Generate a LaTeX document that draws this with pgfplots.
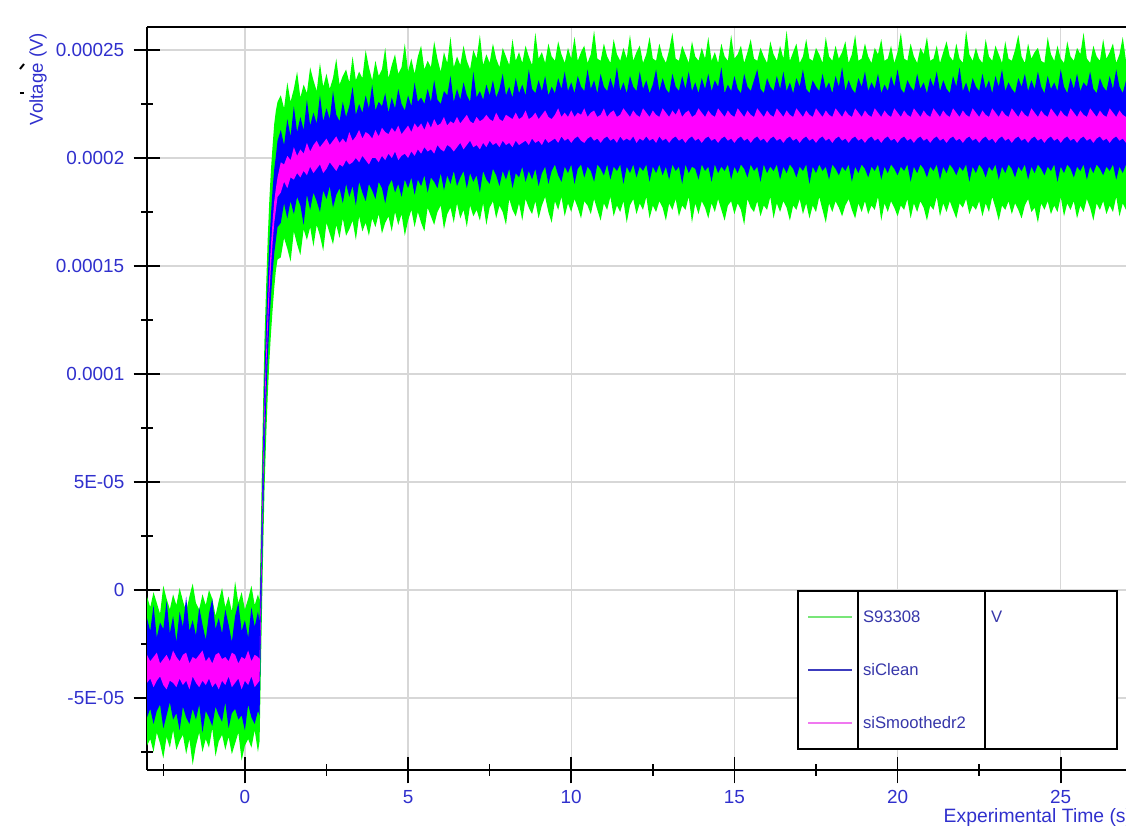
\documentclass[border=0pt]{standalone}
\usepackage{fontspec}
\setmainfont{Liberation Sans}
\usepackage{pgfplots}
\usepackage{pgfplotstable}
\pgfplotsset{compat=1.18}
\usepgfplotslibrary{fillbetween}
\definecolor{txtblue}{RGB}{48,48,205}
\definecolor{legblue}{RGB}{55,55,170}
\definecolor{sgreen}{RGB}{0,255,0}
\definecolor{sblue}{RGB}{0,0,255}
\definecolor{smag}{RGB}{255,0,255}
\definecolor{gridgray}{RGB}{215,215,215}

% voltage in units of 1e-5 V: noise envelopes of each trace
\pgfplotstableread{
x gu gl bu bl mu ml
-3.0 -0.3 -7.2 -1.3 -5.9 -3.0 -4.3
-2.9 -0.8 -6.9 -1.9 -5.5 -3.3 -4.1
-2.8 -0.1 -7.5 -0.7 -6.2 -3.1 -4.5
-2.7 -0.6 -6.6 -2.2 -5.6 -2.9 -4.2
-2.6 -1.1 -7.1 -1.5 -5.3 -3.4 -4.0
-2.5 0.2 -7.8 -1.8 -6.4 -3.2 -4.4
-2.4 -0.4 -6.8 -0.5 -5.8 -3.0 -4.6
-2.3 -0.9 -7.3 -2.0 -5.2 -3.3 -4.2
-2.2 -0.2 -6.5 -1.2 -6.0 -2.8 -4.3
-2.1 -0.7 -7.4 -2.4 -5.7 -3.1 -4.5
-2.0 0.1 -7.0 -1.0 -6.5 -3.3 -4.1
-1.9 -0.5 -6.7 -1.7 -5.4 -3.0 -4.4
-1.8 -1.0 -7.6 -0.3 -5.9 -2.9 -4.2
-1.7 -0.3 -6.9 -1.9 -6.2 -3.4 -4.6
-1.6 0.3 -8.1 -1.4 -5.5 -3.1 -4.0
-1.5 -0.6 -7.2 -2.1 -6.0 -3.2 -4.3
-1.4 -0.9 -6.6 -0.8 -5.3 -3.0 -4.5
-1.3 -0.2 -7.5 -1.6 -6.6 -2.8 -4.2
-1.2 -0.7 -6.9 -2.3 -5.6 -3.3 -4.4
-1.1 0.0 -7.3 -1.1 -5.9 -3.1 -4.1
-1.0 -0.4 -6.4 -0.4 -6.3 -3.4 -4.5
-0.9 -1.2 -7.7 -1.8 -5.4 -3.0 -4.3
-0.8 -0.5 -7.0 -1.3 -5.8 -2.9 -4.6
-0.7 0.1 -6.7 -2.0 -6.1 -3.2 -4.2
-0.6 -0.8 -7.4 -0.9 -5.2 -3.1 -4.4
-0.5 -0.3 -6.8 -1.6 -6.4 -3.3 -4.0
-0.4 -1.0 -7.6 -2.4 -5.7 -2.9 -4.5
-0.3 0.4 -7.1 -1.2 -5.5 -3.0 -4.3
-0.2 -0.6 -6.6 -0.6 -6.0 -3.4 -4.1
-0.1 -0.1 -7.9 -1.9 -5.8 -3.1 -4.6
0.0 -0.9 -7.2 -1.4 -6.5 -3.2 -4.2
0.1 -0.4 -6.9 -2.2 -5.3 -2.8 -4.4
0.2 0.2 -7.3 -0.8 -5.9 -3.3 -4.0
0.3 -0.7 -6.5 -1.7 -6.2 -3.0 -4.5
0.4 -0.2 -7.5 -1.0 -5.6 -3.1 -4.3
0.45 -0.5 -7.0 -1.5 -5.8 -3.2 -4.2
0.50 3.8 -2.8 2.2 -1.2 1.0 0.0
0.55 8.0 1.2 6.3 2.8 5.0 4.0
0.60 11.6 4.6 9.8 6.2 8.5 7.5
0.65 14.0 7.0 12.3 8.7 11.0 10.0
0.70 16.3 9.0 14.4 10.7 13.0 12.0
0.75 18.1 10.6 16.1 12.4 14.7 13.7
0.80 19.5 11.9 17.4 13.6 16.0 15.0
0.85 20.6 13.0 18.6 14.7 17.1 16.1
0.90 21.6 14.0 19.5 15.6 18.0 17.0
0.95 22.2 14.8 20.1 16.2 18.6 17.6
1.00 22.6 15.3 20.8 16.8 19.1 18.2
1.1 22.9 15.4 21.3 17.0 19.8 18.4
1.2 22.3 16.3 20.6 17.9 19.7 18.9
1.3 23.5 15.8 21.8 17.2 20.1 18.6
1.4 22.6 15.2 21.0 18.0 19.9 19.1
1.5 23.2 16.6 22.4 17.4 20.5 19.0
1.6 24.0 16.0 21.2 18.2 20.1 19.3
1.7 22.8 15.5 21.9 17.8 20.4 19.1
1.8 23.4 16.7 21.3 16.9 20.2 19.4
1.9 23.0 16.2 22.7 18.3 20.7 19.2
2.0 24.2 16.8 21.5 17.6 20.3 19.6
2.1 23.6 15.9 22.1 18.4 20.6 19.3
2.2 23.1 16.9 21.6 18.0 20.8 19.5
2.3 24.4 16.4 22.9 17.5 20.5 19.7
2.4 23.3 15.7 21.7 18.5 20.7 19.3
2.5 23.9 17.0 22.3 18.1 20.9 19.5
2.6 23.2 16.5 21.8 18.7 20.6 19.8
2.7 23.7 16.0 23.1 17.7 20.8 19.6
2.8 24.6 16.9 22.0 18.3 21.0 19.4
2.9 23.4 16.3 21.7 18.6 20.7 19.7
3.0 23.8 17.2 22.6 17.9 20.9 19.6
3.1 24.1 16.4 21.9 18.8 20.7 19.9
3.2 23.5 16.7 22.4 18.2 21.2 19.7
3.3 24.7 17.1 23.3 18.7 20.8 19.8
3.4 23.6 16.2 22.0 17.8 21.0 20.0
3.5 24.0 17.3 22.5 18.9 21.3 19.8
3.6 23.7 16.6 22.1 18.4 20.9 20.1
3.7 25.0 17.0 22.9 18.0 21.2 19.9
3.8 24.2 16.4 22.3 18.8 21.1 19.7
3.9 23.6 17.2 23.4 18.5 20.9 20.0
4.0 24.5 16.8 22.2 18.1 21.3 20.0
4.1 23.8 17.4 22.6 18.9 21.0 19.8
4.2 24.1 16.5 22.4 18.6 21.4 20.1
4.3 25.1 17.0 23.0 17.9 21.2 19.9
4.4 23.7 17.3 22.1 18.7 21.1 20.2
4.5 24.3 16.6 22.8 19.0 21.4 20.0
4.6 24.8 17.5 22.3 18.4 21.2 20.3
4.7 23.9 16.9 23.2 18.8 21.5 19.9
4.8 24.2 17.4 22.5 18.2 21.1 20.1
4.9 25.3 16.4 22.2 19.0 21.3 20.2
5.0 24.0 17.1 22.9 18.6 21.5 20.0
5.1 24.6 17.6 22.4 19.1 21.2 20.3
5.2 23.9 16.8 23.5 18.3 21.6 20.1
5.3 24.7 17.5 22.6 19.0 21.4 20.4
5.4 25.2 17.0 22.8 18.7 21.6 20.2
5.5 24.1 16.6 22.5 19.2 21.3 20.5
5.6 24.5 17.7 23.2 18.4 21.7 20.3
5.7 24.2 17.3 22.6 19.1 21.4 20.4
5.8 25.4 16.9 23.6 18.9 21.8 20.2
5.9 24.6 17.5 22.7 18.6 21.5 20.6
6.0 24.0 17.8 22.5 19.3 21.6 20.4
6.1 24.9 16.7 23.1 18.5 21.9 20.3
6.2 24.4 17.4 22.9 19.2 21.5 20.6
6.3 25.6 17.7 23.8 18.8 21.7 20.5
6.4 24.2 17.0 22.6 19.4 21.6 20.3
6.5 24.7 17.9 23.2 18.7 21.9 20.5
6.6 24.3 17.2 22.7 19.1 21.6 20.7
6.7 25.2 17.6 23.5 19.4 21.8 20.4
6.8 24.5 16.8 22.9 18.6 22.0 20.6
6.9 24.1 17.8 22.6 19.3 21.7 20.8
7.0 25.0 17.3 24.0 18.9 21.6 20.5
7.1 24.6 17.6 22.8 19.2 21.9 20.6
7.2 25.7 17.1 23.1 18.4 21.7 20.4
7.3 24.3 17.9 22.7 19.4 21.8 20.7
7.4 24.8 16.9 23.4 19.0 22.0 20.5
7.5 24.4 17.7 22.9 18.8 21.8 20.8
7.6 25.3 18.0 23.6 19.5 21.7 20.6
7.7 24.6 17.2 22.8 19.2 22.1 20.7
7.8 24.2 17.8 23.2 18.7 21.8 20.5
7.9 25.1 17.5 23.9 19.4 21.7 20.8
8.0 24.7 16.9 22.9 19.0 22.0 20.6
8.1 24.3 18.1 23.3 19.5 21.9 20.7
8.2 25.5 17.6 22.8 18.6 21.8 20.5
8.3 24.5 17.3 23.7 19.3 22.1 20.8
8.4 24.9 17.9 23.0 19.1 21.8 20.6
8.5 24.4 17.1 23.4 19.6 21.9 20.7
8.6 25.2 18.1 22.9 18.9 22.2 20.8
8.7 24.7 17.7 24.1 19.4 21.8 20.6
8.8 24.3 17.4 23.2 19.0 21.9 20.9
8.9 25.8 18.0 23.0 19.5 22.1 20.7
9.0 24.6 17.2 23.6 18.7 21.8 20.8
9.1 24.9 17.8 23.1 19.3 22.0 20.6
9.2 24.4 18.2 23.8 19.6 22.2 20.9
9.3 25.3 17.5 22.9 18.8 21.9 20.7
9.4 24.7 17.0 23.3 19.4 21.8 20.8
9.5 24.5 18.0 23.0 19.7 22.0 20.9
9.6 25.4 17.6 23.7 19.2 22.3 20.7
9.7 24.8 18.2 23.2 18.9 21.9 21.0
9.8 24.4 17.3 24.0 19.6 22.1 20.8
9.9 25.1 17.9 23.1 19.3 21.9 20.9
10.0 24.6 17.5 23.5 19.7 22.2 20.7
10.1 25.6 18.1 23.0 18.8 21.9 20.9
10.2 24.5 17.7 23.8 19.5 22.1 21.0
10.3 24.9 17.2 23.3 19.7 22.0 20.8
10.4 25.2 18.0 23.1 19.1 22.3 20.7
10.5 24.4 17.8 24.1 19.6 21.9 20.9
10.6 24.8 17.4 23.2 19.4 22.1 21.0
10.7 25.9 18.1 23.6 18.9 22.2 20.8
10.8 24.6 17.6 23.0 19.7 21.9 20.9
10.9 24.5 17.1 23.9 19.5 22.0 20.7
11.0 25.3 17.9 23.3 19.2 22.3 20.9
11.1 24.7 17.6 23.1 19.7 21.9 21.0
11.2 24.4 18.2 23.7 19.0 22.1 20.8
11.3 25.5 17.3 23.2 19.6 22.2 20.9
11.4 24.8 17.8 24.2 19.4 21.9 20.7
11.5 24.5 17.5 23.1 19.7 22.0 21.0
11.6 25.1 18.0 23.5 18.8 22.3 20.8
11.7 24.6 17.0 23.0 19.6 22.1 20.9
11.8 25.7 17.8 23.8 19.3 21.9 20.8
11.9 24.5 18.1 23.3 19.7 22.2 21.0
12.0 24.9 17.4 23.1 19.1 22.0 20.7
12.1 25.2 17.9 24.0 19.6 21.9 20.9
12.2 24.4 17.6 23.2 19.4 22.3 20.8
12.3 24.8 18.2 23.6 19.7 22.1 21.0
12.4 25.6 17.2 23.0 18.9 21.9 20.8
12.5 24.6 17.8 23.4 19.6 22.2 20.9
12.6 24.5 17.5 24.1 19.3 22.0 20.7
12.7 25.3 18.0 23.1 19.7 21.9 21.0
12.8 24.7 17.7 23.7 19.2 22.3 20.8
12.9 24.4 17.1 23.2 19.6 22.1 20.9
13.0 25.0 17.9 23.0 19.0 21.9 20.7
13.1 25.8 17.6 23.9 19.7 22.2 20.9
13.2 24.6 18.1 23.3 19.4 22.0 21.0
13.3 24.5 17.3 23.1 19.6 22.3 20.8
13.4 25.2 17.8 23.8 18.8 21.9 20.9
13.5 24.8 17.6 23.2 19.7 22.1 20.7
13.6 24.4 18.2 24.0 19.3 22.2 20.9
13.7 25.4 17.0 23.1 19.6 21.9 21.0
13.8 24.7 17.9 23.5 19.5 22.0 20.8
13.9 24.5 17.4 23.0 19.0 22.3 20.9
14.0 25.1 18.0 23.7 19.7 22.1 20.7
14.1 24.6 17.7 23.2 19.4 21.9 20.9
14.2 25.6 17.2 23.9 19.6 22.2 21.0
14.3 24.5 17.9 23.1 18.9 22.0 20.8
14.4 24.9 17.5 23.6 19.7 21.9 20.9
14.5 24.4 18.1 23.3 19.3 22.3 20.7
14.6 25.3 17.6 24.2 19.6 22.1 20.9
14.7 24.7 17.1 23.0 19.4 21.9 21.0
14.8 24.5 17.8 23.4 19.7 22.2 20.8
14.9 25.7 18.0 23.1 19.0 22.0 20.9
15.0 24.6 17.4 23.8 19.6 21.9 20.7
15.1 24.8 17.9 23.2 19.3 22.3 20.9
15.2 25.2 17.6 23.0 19.7 22.1 21.0
15.3 24.4 16.9 23.9 19.5 21.9 20.8
15.4 24.9 18.1 23.3 19.1 22.2 20.9
15.5 25.5 17.7 23.1 19.7 22.0 20.7
15.6 24.6 17.5 23.6 19.4 21.9 20.9
15.7 24.5 18.0 24.1 19.6 22.3 21.0
15.8 25.1 17.3 23.2 18.9 22.1 20.8
15.9 24.7 17.8 23.0 19.7 21.9 20.9
16.0 24.4 17.6 23.7 19.3 22.2 20.7
16.1 25.4 18.2 23.3 19.6 22.0 20.9
16.2 24.8 17.2 23.1 19.4 21.9 21.0
16.3 24.5 17.9 23.8 19.7 22.3 20.8
16.4 25.2 17.5 23.2 19.0 22.1 20.9
16.5 24.6 18.0 24.0 19.6 21.9 20.7
16.6 25.9 17.7 23.1 19.3 22.2 20.9
16.7 24.5 17.1 23.5 19.7 22.0 21.0
16.8 24.9 17.8 23.0 19.5 21.9 20.8
16.9 25.3 17.6 23.7 19.1 22.3 20.9
17.0 24.4 18.1 23.3 19.6 22.1 20.7
17.1 24.7 17.4 24.1 19.4 21.9 20.9
17.2 25.5 17.9 23.2 19.7 22.2 21.0
17.3 24.6 17.2 23.0 18.8 22.0 20.8
17.4 24.5 17.8 23.6 19.6 21.9 20.9
17.5 25.1 17.5 23.3 19.3 22.3 20.7
17.6 24.8 18.2 23.1 19.7 22.1 20.9
17.7 24.4 17.6 23.9 19.4 21.9 21.0
17.8 25.6 17.0 23.2 19.6 22.2 20.8
17.9 24.7 17.9 23.5 19.0 22.0 20.9
18.0 24.5 17.5 23.0 19.7 21.9 20.7
18.1 25.2 18.0 23.8 19.5 22.3 20.9
18.2 24.6 17.7 23.3 19.2 22.1 21.0
18.3 24.9 17.3 24.2 19.6 21.9 20.8
18.4 25.4 17.8 23.1 19.4 22.2 20.9
18.5 24.4 18.1 23.6 19.7 22.0 20.7
18.6 24.8 17.6 23.2 18.9 21.9 20.9
18.7 25.7 17.2 23.0 19.6 22.3 21.0
18.8 24.5 17.9 23.7 19.3 22.1 20.8
18.9 24.6 17.5 23.3 19.7 21.9 20.9
19.0 25.3 18.0 24.0 19.5 22.2 20.7
19.1 24.7 17.4 23.1 19.1 22.0 20.9
19.2 24.4 17.8 23.5 19.6 21.9 21.0
19.3 25.1 17.6 23.2 19.4 22.3 20.8
19.4 24.8 18.2 23.9 19.7 22.1 20.9
19.5 25.5 17.1 23.0 19.0 21.9 20.7
19.6 24.5 17.9 23.4 19.6 22.2 20.9
19.7 24.6 17.5 23.1 19.3 22.0 21.0
19.8 25.2 18.0 23.8 19.7 21.9 20.8
19.9 24.4 17.7 23.3 19.5 22.3 20.9
20.0 24.9 17.3 24.1 19.2 22.1 20.7
20.1 25.8 17.8 23.2 19.6 21.9 20.9
20.2 24.6 17.6 23.0 19.4 22.2 21.0
20.3 24.5 18.1 23.6 19.7 22.0 20.8
20.4 25.3 17.2 23.3 18.9 21.9 20.9
20.5 24.7 17.9 23.1 19.6 22.3 20.7
20.6 24.4 17.5 23.9 19.3 22.1 20.9
20.7 25.1 18.0 23.2 19.7 21.9 21.0
20.8 24.8 17.7 23.5 19.5 22.2 20.8
20.9 25.6 17.1 23.0 19.1 22.0 20.9
21.0 24.5 17.8 23.7 19.6 21.9 20.7
21.1 24.6 17.6 23.3 19.4 22.3 20.9
21.2 25.2 18.2 24.0 19.7 22.1 21.0
21.3 24.4 17.3 23.1 19.0 21.9 20.8
21.4 24.9 17.9 23.6 19.6 22.2 20.9
21.5 25.4 17.5 23.2 19.3 22.0 20.7
21.6 24.7 18.0 23.0 19.7 21.9 20.9
21.7 24.5 17.6 23.8 19.5 22.3 21.0
21.8 25.3 17.2 23.3 19.2 22.1 20.8
21.9 24.6 17.9 24.2 19.6 21.9 20.9
22.0 24.4 17.7 23.1 19.4 22.2 20.7
22.1 25.9 18.1 23.5 19.7 22.0 20.9
22.2 24.8 17.4 23.0 18.9 21.9 21.0
22.3 24.5 17.8 23.7 19.6 22.3 20.8
22.4 25.1 17.6 23.3 19.3 22.1 20.9
22.5 24.6 18.0 23.1 19.7 21.9 20.7
22.6 24.4 17.3 23.9 19.5 22.2 20.9
22.7 25.5 17.9 23.2 19.1 22.0 21.0
22.8 24.7 17.5 23.6 19.6 21.9 20.8
22.9 24.5 18.2 23.0 19.4 22.3 20.9
23.0 25.2 17.7 23.8 19.7 22.1 20.7
23.1 24.8 17.1 23.3 19.0 21.9 20.9
23.2 24.4 17.8 24.1 19.6 22.2 21.0
23.3 25.4 17.6 23.1 19.3 22.0 20.8
23.4 24.6 18.0 23.5 19.7 21.9 20.9
23.5 24.5 17.4 23.2 19.5 22.3 20.7
23.6 25.0 17.9 23.0 19.1 22.1 20.9
23.7 25.7 17.6 23.7 19.6 21.9 21.0
23.8 24.7 17.2 23.3 19.4 22.2 20.8
23.9 24.4 17.8 23.9 19.7 22.0 20.9
24.0 25.3 18.1 23.1 19.0 21.9 20.7
24.1 24.6 17.5 23.6 19.6 22.3 20.9
24.2 24.9 17.7 23.2 19.3 22.1 21.0
24.3 25.1 17.0 24.0 19.7 21.9 20.8
24.4 24.5 17.9 23.3 19.5 22.2 20.9
24.5 24.4 17.6 23.0 19.2 22.0 20.7
24.6 25.6 18.0 23.8 19.6 21.9 20.9
24.7 24.8 17.4 23.2 19.4 22.3 21.0
24.8 24.5 17.8 23.5 19.7 22.1 20.8
24.9 25.2 17.5 23.1 18.9 21.9 20.9
25.0 24.6 18.2 24.1 19.6 22.2 20.7
25.1 24.4 17.3 23.3 19.3 22.0 20.9
25.2 25.4 17.9 23.0 19.7 21.9 21.0
25.3 24.7 17.6 23.7 19.5 22.3 20.8
25.4 24.5 18.0 23.2 19.1 22.1 20.9
25.5 25.1 17.2 23.9 19.6 21.9 20.7
25.6 24.8 17.8 23.1 19.4 22.2 20.9
25.7 25.8 17.5 23.5 19.7 22.0 21.0
25.8 24.6 18.1 23.3 19.0 21.9 20.8
25.9 24.4 17.7 24.0 19.6 22.3 20.9
26.0 25.2 17.1 23.2 19.3 22.1 20.7
26.1 24.7 17.9 23.0 19.7 21.9 20.9
26.2 24.5 17.6 23.7 19.5 22.2 21.0
26.3 25.5 18.0 23.3 19.2 22.0 20.8
26.4 24.6 17.4 23.1 19.6 21.9 20.9
26.5 24.9 17.8 23.8 19.4 22.3 20.7
26.6 25.3 17.5 23.2 19.7 22.1 20.9
26.7 24.4 18.2 24.1 19.0 21.9 21.0
26.8 24.8 17.3 23.3 19.6 22.2 20.8
26.9 25.6 17.9 23.0 19.3 22.0 20.9
27.0 24.5 17.6 23.6 19.7 21.9 20.7
}\sig

\begin{document}
\begin{tikzpicture}
\begin{axis}[
  at={(0pt,0pt)}, anchor=south west,
  scale only axis, width=734.25pt, height=557.25pt,
  xmin=-3, xmax=27, ymin=-8.333, ymax=26.065,
  axis x line*=box, axis y line*=left,
  axis line style={-, line width=1.5pt, black},
  x axis line style={-}, y axis line style={-},
  xtick pos=bottom, ytick pos=left,
  xtick={0,5,10,15,20,25}, xticklabels={0,5,10,15,20,25},
  minor xtick={-2.5,2.5,7.5,12.5,17.5,22.5},
  ytick={-5,0,5,10,15,20,25},
  yticklabels={-5E-05,0,5E-05,0.0001,0.00015,0.0002,0.00025},
  minor ytick={-7.5,-2.5,2.5,7.5,12.5,17.5,22.5},
  tick align=center,
  major tick length=20pt, minor tick length=9pt,
  every tick/.style={black, line width=1.2pt},
  grid=major, major grid style={gridgray, line width=1pt},
  ticklabel style={text=txtblue, font=\fontsize{14.2}{16}\selectfont},
  /pgf/number format/assume math mode=true,
  xticklabel style={yshift=-2pt},
  yticklabel style={xshift=-3.5pt},
]
\addplot[name path=gu, draw=none, forget plot] table[x=x,y=gu]{\sig};
\addplot[name path=gl, draw=none, forget plot] table[x=x,y=gl]{\sig};
\addplot[name path=bu, draw=none, forget plot] table[x=x,y=bu]{\sig};
\addplot[name path=bl, draw=none, forget plot] table[x=x,y=bl]{\sig};
\addplot[name path=mu, draw=none, forget plot] table[x=x,y=mu]{\sig};
\addplot[name path=ml, draw=none, forget plot] table[x=x,y=ml]{\sig};
\addplot[fill=sgreen, draw=none] fill between[of=gu and gl];
\addplot[fill=sblue, draw=none] fill between[of=bu and bl];
\addplot[fill=smag, draw=none] fill between[of=mu and ml];
\end{axis}
% axis labels
\node[rotate=90, text=txtblue, font=\fontsize{14}{16}\selectfont] at (-81.75pt,518.25pt) {Voltage (V)};
\node[anchor=west, text=txtblue, font=\fontsize{14.5}{16}\selectfont] at (594pt,-36pt) {Experimental Time (s)};
% stray marks at top left
\draw[line width=1.5pt] (-95.25pt,525.75pt) -- (-92.25pt,529.5pt);
\draw[line width=1.5pt] (-95.25pt,507.75pt) -- (-92.25pt,507.75pt);
% legend box
\draw[fill=white, line width=1.5pt] (488.25pt,15.75pt) rectangle (727.5pt,134.25pt);
\draw[line width=1.5pt] (533.25pt,15.75pt) -- (533.25pt,134.25pt);
\draw[line width=1.5pt] (628.5pt,15.75pt) -- (628.5pt,134.25pt);
\draw[line width=0.9pt, color={rgb,255:red,120;green,230;blue,120}] (495.75pt,114.75pt) -- (528.75pt,114.75pt);
\draw[line width=0.9pt, color={rgb,255:red,60;green,60;blue,190}] (495.75pt,75pt) -- (528.75pt,75pt);
\draw[line width=0.9pt, color={rgb,255:red,240;green,120;blue,240}] (495.75pt,35.25pt) -- (528.75pt,35.25pt);
\begin{scope}[every node/.style={anchor=west, text=legblue, font=\fontsize{12.5}{14}\selectfont}]
\node at (533.5pt,114.75pt) {S93308};
\node at (533.5pt,75pt) {siClean};
\node at (533.5pt,35.25pt) {siSmoothedr2};
\node at (629.5pt,114.75pt) {V};
\end{scope}
\pgfresetboundingbox
\path[use as bounding box] (-110.25pt,-45pt) rectangle (734.25pt,577.5pt);
\end{tikzpicture}
\end{document}
